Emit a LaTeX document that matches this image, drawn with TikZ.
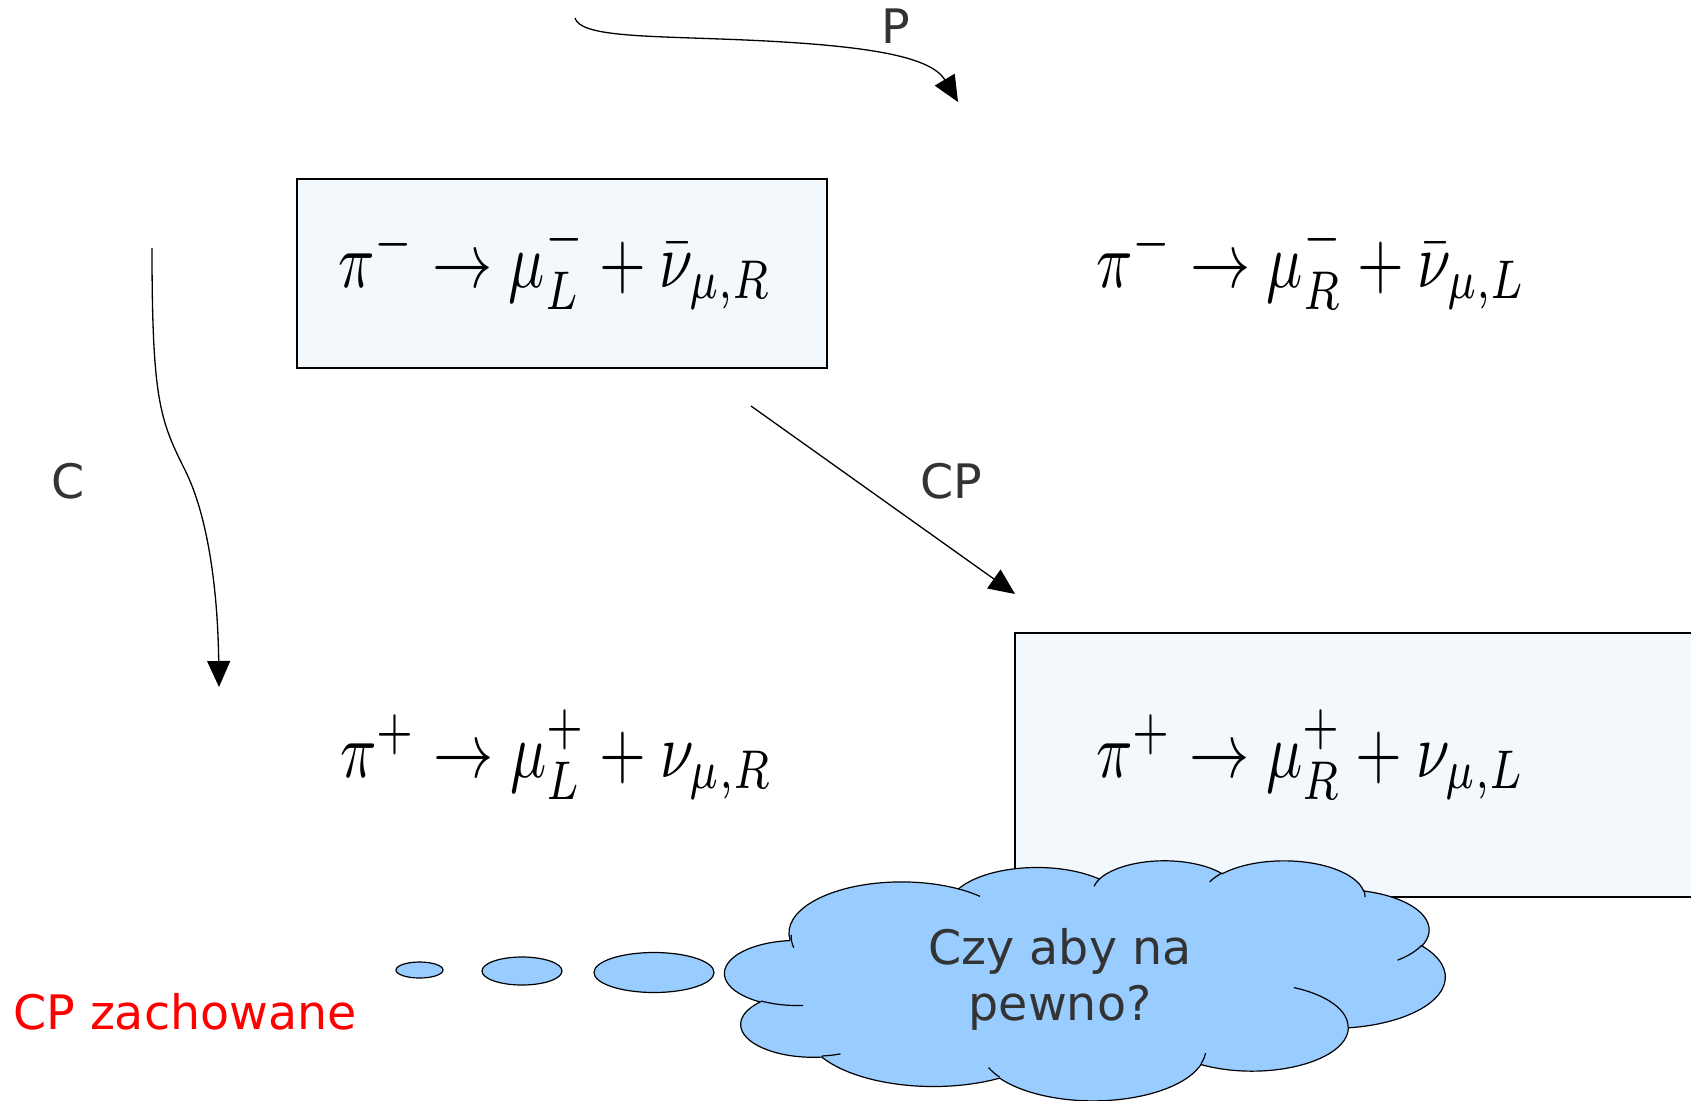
\documentclass[tikz,border=0pt]{standalone}
\usepackage{fontspec}
\newfontfamily\djv{DejaVu Sans}
\usetikzlibrary{arrows.meta,shapes.geometric}
\definecolor{boxfill}{HTML}{F3F8FD}
\definecolor{cloudfill}{HTML}{99CCFF}
\definecolor{txtgray}{HTML}{333333}
\newcommand\myconv[4]{%
  \pgfmathsetmacro\myen{#3+#4}%
  \pgfmathsetmacro\myts{atan2(#1*sin(#3),#2*cos(#3))}%
  \pgfmathsetmacro\mytee{atan2(#1*sin(\myen),#2*cos(\myen))}%
  \pgfmathsetmacro\myd{\mytee-\myts}%
  \pgfmathsetmacro\myd{\myd+360*(\myd<0)}%
}
\tikzset{
  lab/.style={font=\djv\fontsize{47.5}{56}\selectfont, text=txtgray, inner sep=0pt, anchor=base west},
  eqn/.style={xscale=6.02, yscale=7.8, inner sep=0pt, anchor=base west},
  arr/.style={line width=1.3pt, -{Triangle[length=26pt,width=23pt]}},
  bubble/.style={ellipse, draw, fill=cloudfill, line width=1.2pt, inner sep=0pt},
  frame/.style={draw, fill=boxfill, line width=1.2pt, inner sep=0pt},
  oarc/.style n args={4}{/utils/exec={\myconv{#1}{#2}{#3}{#4}},
    insert path={arc[x radius=#1, y radius=#2, start angle=\myts, delta angle=\myd]}},
}
\begin{document}
\begin{tikzpicture}[x=1pt,y=-1pt]
\useasboundingbox (0,0) rectangle (1691,1100);
\clip (0,0) rectangle (1691,1100);
\fill[white] (0,0) rectangle (1691,1100);

% boxes
\node[frame, minimum width=530pt, minimum height=189pt] (boxA) at (562,273.5) {};
\node[frame, minimum width=705pt, minimum height=264pt] (boxB) at (1367.5,765) {};

% equations
\node[eqn] (eqA) at (337,287) {$\pi^- \to \mu_L^- + \bar\nu_{\mu,R}$};
\node[eqn] (eqB) at (1095,287) {$\pi^- \to \mu_R^- + \bar\nu_{\mu,L}$};
\node[eqn] (eqC) at (339,777) {$\pi^+ \to \mu_L^+ + \nu_{\mu,R}$};
\node[eqn] (eqD) at (1095,777) {$\pi^+ \to \mu_R^+ + \nu_{\mu,L}$};

% arrows
\coordinate (Ps) at (575,18);
\coordinate (Pm) at (720,39);
\coordinate (Pe) at (958,102);
\draw[arr] (Ps) .. controls (580,36) and (640,36) .. (Pm) .. controls (860,44) and (930,55) .. (Pe);

\coordinate (Cs) at (152,248);
\coordinate (Cm) at (185,470);
\coordinate (Ce) at (219,687);
\draw[arr] (Cs) .. controls (152,400) and (160,420) .. (Cm) .. controls (210,520) and (218,600) .. (Ce);

\coordinate (CPs) at (751,406);
\coordinate (CPe) at (1015,594);
\draw[arr] (CPs) -- (CPe);

% labels
\node[lab] (lP) at (881,43) {P};
\node[lab] (lC) at (51,498) {C};
\node[lab] (lCP) at (920,498) {CP};
\node[lab, text=red] (lz) at (13,1029) {CP zachowane};

% thought bubbles
\node[bubble, minimum width=47pt, minimum height=16pt] (b1) at (419.5,970) {};
\node[bubble, minimum width=80pt, minimum height=28pt] (b2) at (522,971) {};
\node[bubble, minimum width=120pt, minimum height=40pt] (b3) at (654,972.5) {};

% cloud
\begin{scope}[shift={(725,860)}, x=0.166667pt, y=-0.0555556pt]
\draw[fill=cloudfill, line width=1.2pt] (390,1437)
  [oarc={675.3}{919.0}{-190.4875}{123.7805}]
  [oarc={533.3}{726.7}{-144.1024}{89.9452}]
  [oarc={436.5}{594.5}{-145.8079}{99.7230}]
  [oarc={485.7}{659.5}{-130.9861}{117.2417}]
  [oarc={533.3}{727.3}{-78.7089}{109.0269}]
  [oarc={677.5}{922.0}{-46.2673}{130.2690}]
  [oarc={578.5}{786.7}{0.6250}{114.0333}]
  [oarc={675.2}{921.5}{22.4516}{115.1726}]
  [oarc={772.0}{1054.3}{66.2426}{75.7110}]
  [oarc={436.0}{591.8}{-274.9421}{146.7356}]
  [oarc={434.5}{594.5}{-246.8285}{152.5189}]
  -- cycle;
\draw[line width=1.2pt]
  (469.3,2617.7) [oarc={434.5}{594.5}{86.7420}{26.4295}]
  (692.8,3489.9) [oarc={436.0}{591.8}{73.6105}{11.4475}]
  (1647.8,3909.0) [oarc={675.2}{921.5}{137.6242}{14.0811}]
  (2882.7,3475.1) [oarc={675.2}{921.5}{6.4533}{15.9984}]
  (3412.9,2295.4) [oarc={578.5}{786.7}{-70.2924}{70.9174}]
  (4179.8,1535.4) [oarc={533.3}{727.3}{30.3180}{27.7515}]
  (3832.4,542.6) [oarc={485.7}{659.5}{-13.7443}{14.8589}]
  (2907.8,395.2) [oarc={485.7}{659.5}{-149.1815}{18.1954}]
  (2214.1,472.0) [oarc={436.5}{594.5}{-163.4943}{17.6864}]
  (1400.0,519.2) [oarc={675.3}{919.0}{-66.7070}{12.3194}]
  (412.7,1578.9) [oarc={675.3}{919.0}{163.3860}{19.4296}];
\end{scope}
\node[font=\djv\fontsize{47.5}{56}\selectfont, text=txtgray, align=center, inner sep=0pt] (q) at (1060,979) {Czy aby na\\pewno?};
\end{tikzpicture}
\end{document}
